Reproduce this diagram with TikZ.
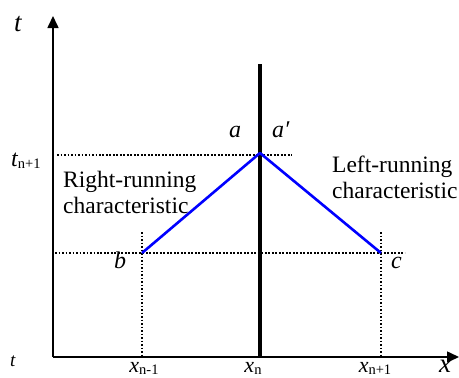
\documentclass[tikz,border=0pt]{standalone}
\usepackage{fontspec}
\setmainfont{Liberation Serif}
\usetikzlibrary{arrows.meta}
\newcommand{\fsz}[1]{\fontsize{#1}{#1}\selectfont}
\newcommand{\subtxt}[1]{\raisebox{-2pt}{\fsz{14.5}\upshape #1}}
\begin{document}
\begin{tikzpicture}[x=1pt,y=-1pt,
  axis/.style={line width=1.6pt,-{Triangle[length=12pt,width=11pt]}},
  dotline/.style={line width=1.8pt,dash pattern=on 1.6pt off 1.9pt},
  charline/.style={blue,line width=2.6pt,line join=round},
  thick4/.style={line width=4pt},
  ital/.style={font=\fsz{24}\itshape,inner sep=0pt},
  sublbl/.style={font=\fsz{22}\itshape,inner sep=0pt},
  txt/.style={font=\fontsize{23.5}{26}\selectfont,align=left,inner sep=0pt}]
\useasboundingbox (0,0) rectangle (459,378);
% key points
\coordinate (O) at (53,357);
\coordinate (Ttop) at (53,16);
\coordinate (Xend) at (459,357);
\coordinate (A) at (260,153);
\coordinate (B) at (142,253);
\coordinate (C) at (381,253);
\coordinate (Ntop) at (260,64);
\coordinate (Nbot) at (260,357);
\coordinate (L1s) at (57,155);
\coordinate (L1e) at (292,155);
\coordinate (L2s) at (55,253);
\coordinate (L2e) at (405,253);
\coordinate (Bt) at (142,232);
\coordinate (Bb) at (142,357);
\coordinate (Ct) at (381,232);
\coordinate (Cb) at (381,357);
% dotted guides
\draw[dotline] (L1s) -- (L1e);
\draw[dotline] (L2s) -- (L2e);
\draw[dotline] (Bt) -- (Bb);
\draw[dotline] (Ct) -- (Cb);
% axes
\draw[axis] (O) -- (Ttop);
\draw[axis] (O) -- (Xend);
% thick line x_n
\draw[thick4] (Ntop) -- (Nbot);
% characteristics
\draw[charline] (B) -- (A) -- (C);
% labels
\node[ital,font=\fsz{27}\itshape,anchor=base west] (tlab) at (14,31) {t};
\node[ital,font=\fsz{19}\itshape,anchor=base west] (t0) at (10,366) {t};
\node[ital,font=\fsz{27}\itshape,anchor=base west] (xlab) at (439,372) {x};
\node[sublbl,font=\fsz{24}\itshape,anchor=base west] (tn1) at (11,166) {t\subtxt{n+1}};
\node[ital,anchor=base west] (alab) at (229,137) {a};
\node[ital,anchor=base west] (aplab) at (272,137) {a′};
\node[ital,anchor=base west] (blab) at (114,268) {b};
\node[ital,anchor=base west] (clab) at (391,268) {c};
\node[sublbl,anchor=base] (xnm1) at (144,372) {x\subtxt{n-1}};
\node[sublbl,anchor=base] (xn) at (253,372) {x\subtxt{n}};
\node[sublbl,anchor=base] (xnp1) at (375,372) {x\subtxt{n+1}};
\node[txt,anchor=base west] (rr) at (63,187) {Right-running};
\node[txt,anchor=base west] (rr2) at (63,213) {characteristic};
\node[txt,anchor=base west] (lr) at (332,172) {Left-running};
\node[txt,anchor=base west] (lr2) at (332,198) {characteristic};
\end{tikzpicture}
\end{document}
